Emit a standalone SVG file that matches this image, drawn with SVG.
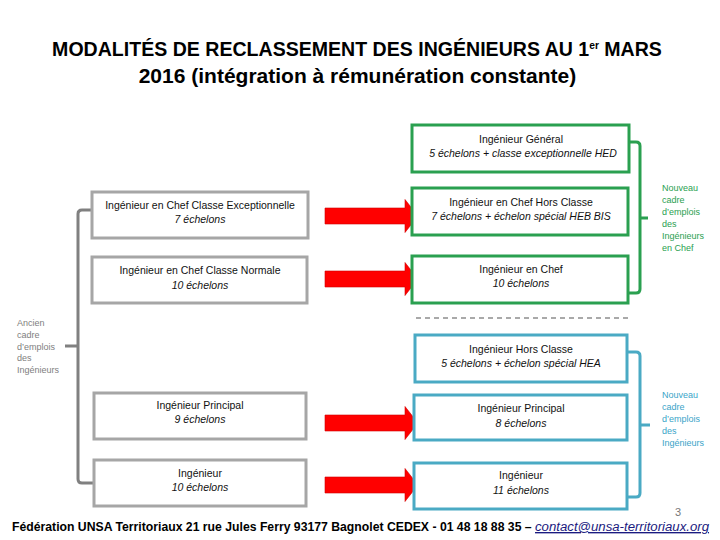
<svg xmlns="http://www.w3.org/2000/svg" width="720" height="540" viewBox="0 0 720 540">
<style>
.title{font-family:"Liberation Sans",Arial,sans-serif;font-weight:bold;fill:#000;font-size:21px;text-anchor:middle}
.t{font-family:"Liberation Sans",Arial,sans-serif;font-size:10.5px;fill:#111;text-anchor:middle}
.i{font-style:italic}
.gbox{fill:#fff;stroke:#a6a6a6;stroke-width:3}
.grn{fill:#fff;stroke:#2aa050;stroke-width:3}
.blu{fill:#fff;stroke:#4aaac4;stroke-width:3}
.side{font-family:"Liberation Sans",Arial,sans-serif;font-size:9px}
.arrow{fill:#f00;stroke:#d00000;stroke-width:0.6}
.br{fill:none;stroke-width:3;stroke-linecap:butt}
</style>
<rect width="720" height="540" fill="#fff"/>
<g id="title">
<text class="title" transform="translate(357,56) scale(0.932,1)" x="0" y="0">MODALITÉS DE RECLASSEMENT DES INGÉNIEURS AU 1<tspan font-size="11" dy="-7">er</tspan><tspan dy="7"> MARS</tspan></text>
<text class="title" x="357.5" y="83">2016 (intégration à rémunération constante)</text>
</g>
<g id="connectors">
<polygon class="arrow" points="325,208 405,208 405,199.5 418,216 405,232.5 405,224 325,224"/>
<polygon class="arrow" points="325,271 405,271 405,262.5 418,279 405,295.5 405,287 325,287"/>
<polygon class="arrow" points="325,415 405,415 405,406.5 418,423 405,439.5 405,431 325,431"/>
<polygon class="arrow" points="325,477 405,477 405,468.5 418,485 405,501.5 405,493 325,493"/>
<path class="br" stroke="#2aa050" d="M629,142 H636 Q640,142 640,146 V289 Q640,293 636,293 H629 M640,218 H648"/>
<path class="br" stroke="#4aaac4" d="M627,352 H636 Q640,352 640,356 V493 Q640,497 636,497 H627 M640,425 H650"/>
<path class="br" stroke="#808080" stroke-width="2.5" d="M92,210 H82 Q78,210 78,214 V479 Q78,483 82,483 H94 M65,346 H78"/>
</g>
<g id="separator">
<line x1="416" y1="318" x2="632" y2="318" stroke="#555" stroke-width="1.2" stroke-dasharray="5 4"/>
</g>
<g id="ancien-chef-exc">
<rect class="gbox" x="92" y="192" width="216" height="46"/>
<text class="t" x="200" y="209">Ingénieur en Chef Classe Exceptionnelle</text>
<text class="t i" x="200" y="223">7 échelons</text>
</g>
<g id="ancien-chef-norm">
<rect class="gbox" x="92" y="257" width="215" height="46"/>
<text class="t" x="200" y="274">Ingénieur en Chef Classe Normale</text>
<text class="t i" x="200" y="289">10 échelons</text>
</g>
<g id="ancien-principal">
<rect class="gbox" x="94" y="393" width="212" height="46"/>
<text class="t" x="200" y="409">Ingénieur Principal</text>
<text class="t i" x="200" y="423">9 échelons</text>
</g>
<g id="ancien-ingenieur">
<rect class="gbox" x="94" y="460" width="212" height="46"/>
<text class="t" x="200" y="477">Ingénieur</text>
<text class="t i" x="200" y="491">10 échelons</text>
</g>
<g id="nouveau-general">
<rect class="grn" x="412" y="125" width="217" height="47"/>
<text class="t" x="521" y="143">Ingénieur Général</text>
<text class="t i" x="523" y="157">5 échelons + classe exceptionnelle HED</text>
</g>
<g id="nouveau-chef-hc">
<rect class="grn" x="412" y="188" width="216" height="47"/>
<text class="t" x="521" y="206">Ingénieur en Chef Hors Classe</text>
<text class="t i" x="521" y="220">7 échelons + échelon spécial HEB BIS</text>
</g>
<g id="nouveau-chef">
<rect class="grn" x="412" y="256" width="216" height="47"/>
<text class="t" x="521" y="273">Ingénieur en Chef</text>
<text class="t i" x="521" y="287">10 échelons</text>
</g>
<g id="nouveau-hc">
<rect class="blu" x="415" y="335" width="212" height="47"/>
<text class="t" x="521" y="353">Ingénieur Hors Classe</text>
<text class="t i" x="521" y="367">5 échelons + échelon spécial HEA</text>
</g>
<g id="nouveau-principal">
<rect class="blu" x="414" y="395" width="213" height="45"/>
<text class="t" x="521" y="412">Ingénieur Principal</text>
<text class="t i" x="521" y="427">8 échelons</text>
</g>
<g id="nouveau-ingenieur">
<rect class="blu" x="414" y="463" width="213" height="46"/>
<text class="t" x="521" y="479">Ingénieur</text>
<text class="t i" x="521" y="494">11 échelons</text>
</g>
<g id="label-chef" class="side" fill="#2aa050">
<text x="662" y="191">Nouveau</text>
<text x="662" y="203">cadre</text>
<text x="662" y="215">d’emplois</text>
<text x="662" y="227">des</text>
<text x="662" y="239">Ingénieurs</text>
<text x="662" y="251">en Chef</text>
</g>
<g id="label-ing" class="side" fill="#3aa4c8">
<text x="662" y="398">Nouveau</text>
<text x="662" y="410">cadre</text>
<text x="662" y="422">d’emplois</text>
<text x="662" y="434">des</text>
<text x="662" y="446">Ingénieurs</text>
</g>
<g id="label-ancien" class="side" fill="#808080">
<text x="17" y="326">Ancien</text>
<text x="17" y="338">cadre</text>
<text x="17" y="350">d’emplois</text>
<text x="17" y="361">des</text>
<text x="17" y="373">Ingénieurs</text>
</g>
<g id="footer">
<text x="675" y="516" font-family="Liberation Sans,Arial,sans-serif" font-size="11" fill="#777">3</text>
<text transform="translate(12,531) scale(0.978,1)" x="0" y="0" font-family="Liberation Sans,Arial,sans-serif" fill="#000"><tspan font-size="12.5" font-weight="bold">Fédération UNSA Territoriaux 21 rue Jules Ferry 93177 Bagnolet CEDEX - 01 48 18 88 35 – </tspan><tspan font-size="13.5" font-style="italic" fill="#1a1a80" text-decoration="underline">contact@unsa-territoriaux.org</tspan></text>
</g>
</svg>
